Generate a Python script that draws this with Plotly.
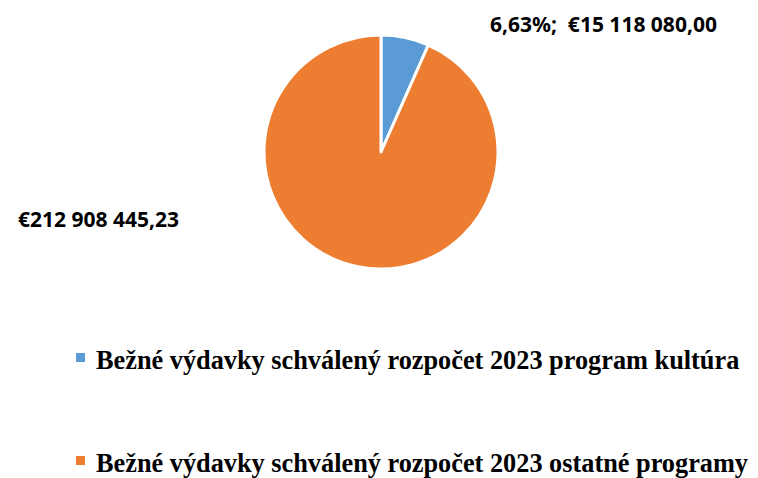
import plotly.graph_objects as go

categories = [
    "Bežné výdavky schválený rozpočet 2023 program kultúra",
    "Bežné výdavky schválený rozpočet 2023 ostatné programy",
]
values = [15118080.00, 212908445.23]
colors = ["#5B9BD5", "#ED7D31"]


def fmt_eur(v):
    s = f"{v:,.2f}"
    s = s.replace(",", " ").replace(".", ",")
    return "€" + s


total = sum(values)
pct = values[0] / total * 100
label1 = f"{pct:.2f}".replace(".", ",") + "%;  " + fmt_eur(values[0])
label2 = fmt_eur(values[1])

W, H = 758, 478
cx, cy, r = 381, 152, 117

fig = go.Figure(go.Pie(
    labels=categories,
    values=values,
    marker=dict(colors=colors, line=dict(color="white", width=3)),
    sort=False,
    direction="clockwise",
    rotation=0,
    textinfo="none",
    hoverinfo="label+value+percent",
    showlegend=False,
    domain=dict(x=[(cx - r) / W, (cx + r) / W], y=[1 - (cy + r) / H, 1 - (cy - r) / H]),
))

lab_font = dict(family="Noto Sans, Open Sans, sans-serif", size=21, color="#000000")
fig.add_annotation(x=603.5 / W, y=1 - 24 / H, xref="paper", yref="paper",
                   text="<b>" + label1 + "</b>", showarrow=False, font=lab_font,
                   xanchor="center", yanchor="middle")
fig.add_annotation(x=98 / W, y=1 - 219 / H, xref="paper", yref="paper",
                   text="<b>" + label2 + "</b>", showarrow=False, font=lab_font,
                   xanchor="center", yanchor="middle")

leg_font = dict(family="Liberation Serif, Times New Roman, serif", size=26.3, color="#000000")
leg_y = [360, 463]
for cat, col, ly in zip(categories, colors, leg_y):
    fig.add_shape(type="rect", xref="paper", yref="paper",
                  x0=76 / W, x1=85 / W, y0=1 - (ly + 2) / H, y1=1 - (ly - 7) / H,
                  fillcolor=col, line=dict(width=0))
    fig.add_annotation(x=94 / W, y=1 - ly / H, xref="paper", yref="paper",
                       text="<b>" + cat + "</b>", showarrow=False, font=leg_font,
                       xanchor="left", yanchor="middle")

fig.update_layout(
    width=W, height=H,
    margin=dict(l=0, r=0, t=0, b=0),
    paper_bgcolor="white", plot_bgcolor="white",
)

fig.write_html("out.html")
